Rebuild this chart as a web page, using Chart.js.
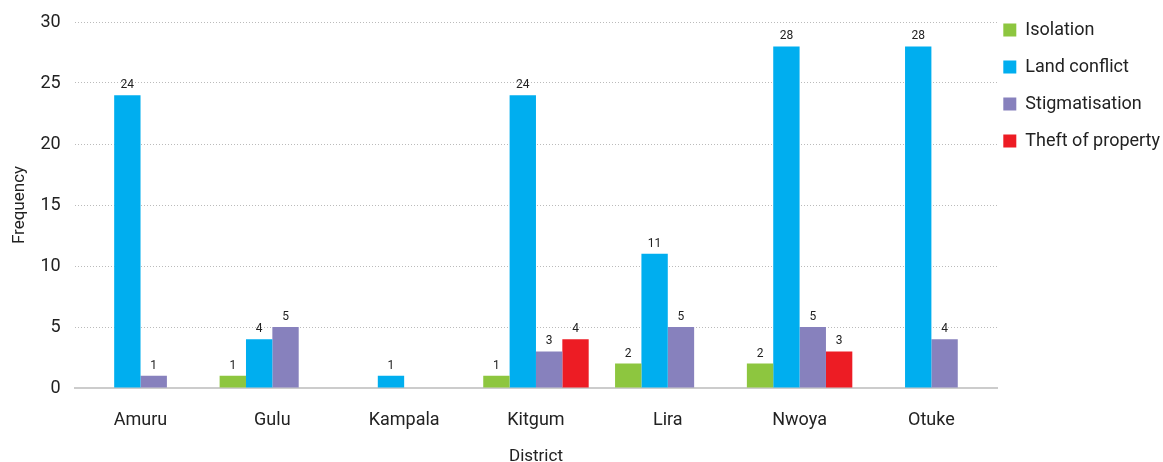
<!DOCTYPE html>
<html>
<head>
<meta charset="utf-8">
<script src="https://cdn.jsdelivr.net/npm/chart.js@4"></script>
<style>
  html, body { margin: 0; padding: 0; background: #fff; }
  #wrap { width: 1163px; height: 462px; }
</style>
</head>
<body>
<div id="wrap"><canvas id="chart" width="1163" height="462"></canvas></div>
<script>
const districts = ['Amuru', 'Gulu', 'Kampala', 'Kitgum', 'Lira', 'Nwoya', 'Otuke'];
const isolation = [0, 1, 0, 1, 2, 2, 0];
const landConflict = [24, 4, 1, 24, 11, 28, 28];
const stigmatisation = [1, 5, 0, 3, 5, 5, 4];
const theftOfProperty = [0, 0, 0, 4, 0, 3, 0];
const yTicks = [0, 5, 10, 15, 20, 25, 30];

const fontFamily = 'Roboto, "DejaVu Sans", sans-serif';
const textColor = '#222';

// value labels above each non-zero bar
const valueLabels = {
    id: 'valueLabels',
    afterDatasetsDraw(chart) {
        const ctx = chart.ctx;
        ctx.save();
        ctx.font = '12px ' + fontFamily;
        ctx.fillStyle = textColor;
        ctx.textAlign = 'center';
        ctx.textBaseline = 'bottom';
        chart.data.datasets.forEach((ds, i) => {
            const meta = chart.getDatasetMeta(i);
            meta.data.forEach((bar, j) => {
                const v = ds.data[j];
                if (!v) return;
                ctx.fillText(v, bar.x, bar.y - 4);
            });
        });
        ctx.restore();
    }
};

// nudge the legend so it lines up with the top gridline
const legendShift = {
    id: 'legendShift',
    afterLayout(chart) {
        const lg = chart.legend;
        lg.top -= 20;
        lg.bottom -= 20;
        lg.left -= 13;
        lg.right -= 13;
    }
};

function makeSet(label, data, color) {
    return { label: label, data: data, backgroundColor: color, borderWidth: 0 };
}

new Chart(document.getElementById('chart'), {
    type: 'bar',
    data: {
        labels: districts,
        datasets: [
            makeSet('Isolation', isolation, '#8DC63F'),
            makeSet('Land conflict', landConflict, '#00AEEF'),
            makeSet('Stigmatisation', stigmatisation, '#8781BD'),
            makeSet('Theft of property', theftOfProperty, '#ED1C24')
        ]
    },
    options: {
        responsive: false,
        animation: false,
        datasets: { bar: { barPercentage: 1, categoryPercentage: 0.8 } },
        layout: { padding: { top: 22, right: -20, left: 6, bottom: -9 } },
        plugins: {
            legend: {
                position: 'right',
                align: 'start',
                labels: {
                    boxWidth: 13,
                    boxHeight: 13,
                    padding: 19,
                    color: textColor,
                    font: { family: fontFamily, size: 18 }
                }
            },
            tooltip: { enabled: false }
        },
        scales: {
            x: {
                grid: { display: false },
                border: { display: true, color: '#cccccc', width: 2 },
                ticks: { color: textColor, padding: 14, font: { family: fontFamily, size: 18 } },
                title: { display: true, text: 'District', color: textColor, padding: { top: 1 }, font: { family: fontFamily, size: 17 } }
            },
            y: {
                min: 0,
                max: 30,
                afterBuildTicks(scale) { scale.ticks = yTicks.map(v => ({ value: v })); },
                grid: { color: '#bbbbbb', lineWidth: 1, drawTicks: true, tickLength: 12, tickColor: 'rgba(0,0,0,0)' },
                border: { display: false, dash: [1, 2] },
                ticks: { color: textColor, padding: 2, font: { family: fontFamily, size: 18 } },
                title: { display: true, text: 'Frequency', color: textColor, padding: { bottom: 8 }, font: { family: fontFamily, size: 17 } }
            }
        }
    },
    plugins: [valueLabels, legendShift]
});
</script>
</body>
</html>
